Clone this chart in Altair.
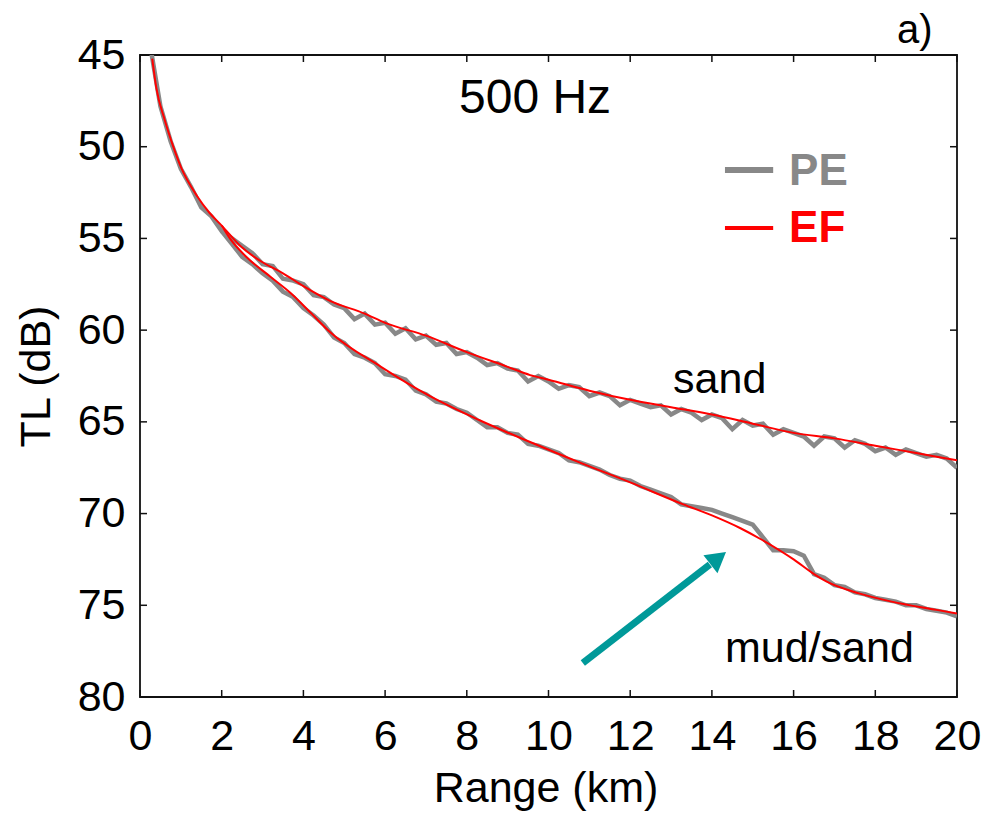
import altair as alt
import pandas as pd

# ---------------- data ----------------
pe_km = [round(0.25 * i, 2) for i in range(1, 81)]  # sample grid 0.25 .. 20 km

pe_sand_tl = [
    44.5, 47.8, 49.7, 51.2, 52.2, 53.3, 53.8, 54.6, 55.0, 55.4,
    55.8, 56.4, 56.5, 57.2, 57.3, 57.5, 58.1, 58.2, 58.6, 58.8,
    59.4, 59.1, 59.7, 59.6, 60.2, 59.9, 60.5, 60.3, 60.8, 60.7,
    61.3, 61.2, 61.5, 61.9, 61.8, 62.1, 62.2, 62.8, 62.5, 62.8,
    63.2, 63.0, 63.1, 63.6, 63.4, 63.6, 64.1, 63.8, 64.0, 64.2,
    64.1, 64.6, 64.3, 64.5, 64.9, 64.6, 64.8, 65.4, 64.9, 65.2,
    65.1, 65.7, 65.4, 65.6, 65.8, 66.3, 65.8, 65.9, 66.4, 66.0,
    66.2, 66.6, 66.4, 66.8, 66.5, 66.7, 66.9, 66.8, 67.0, 67.5,
]

# mud/sand PE branch (starts at 2.0 km where it leaves the sand curve)
pe_mud_km = pe_km[7:]
pe_mud_tl = [
    54.6, 55.3, 56.0, 56.4, 56.9, 57.3, 57.9, 58.2, 58.8, 59.2,
    59.7, 60.4, 60.7, 61.3, 61.5, 61.8, 62.4, 62.5, 62.7, 63.3,
    63.5, 63.9, 64.0, 64.3, 64.5, 64.9, 65.3, 65.3, 65.6, 65.7,
    66.2, 66.3, 66.5, 66.7, 67.1, 67.2, 67.4, 67.6, 67.9, 68.1,
    68.2, 68.5, 68.7, 68.9, 69.1, 69.5, 69.6, 69.7, 69.8, 70.0,
    70.2, 70.4, 70.6, 71.3, 72.0, 72.0, 72.05, 72.3, 73.3, 73.5,
    73.9, 74.0, 74.3, 74.4, 74.6, 74.7, 74.8, 75.0, 75.0, 75.2,
    75.3, 75.4, 75.6,
]

ef_sand_km = [0.3, 0.4, 0.6, 0.8, 1.0, 1.4, 1.7, 2.0, 2.5, 3.0, 3.5, 4.0, 4.65,
              5.5, 6.0, 7.0, 8.0, 9.0, 9.55, 10.0, 11.0, 12.0, 13.0, 14.0,
              15.0, 16.0, 17.0, 18.0, 19.0, 20.0]
ef_sand_tl = [45.2, 46.8, 48.5, 49.9, 51.1, 52.7, 53.6, 54.3, 55.5, 56.3, 56.9,
              57.6, 58.4, 59.1, 59.6, 60.3, 61.2, 62.0, 62.45, 62.7, 63.3,
              63.8, 64.2, 64.6, 65.1, 65.6, 65.9, 66.3, 66.7, 67.1]

ef_mud_km = [2.0, 2.2, 2.6, 3.2, 3.7, 4.2, 4.65, 5.9, 7.1, 8.3, 9.55, 10.8,
             12.0, 13.3, 14.0, 14.7, 15.2, 16.0, 16.5, 16.8, 17.6, 18.4,
             19.5, 20.0]
ef_mud_tl = [54.3, 55.0, 56.0, 57.1, 58.0, 59.1, 60.1, 62.0, 63.6, 64.9, 66.1,
             67.25, 68.3, 69.5, 70.1, 70.8, 71.4, 72.5, 73.3, 73.7, 74.35,
             74.8, 75.25, 75.45]

x_ticks = [0, 2, 4, 6, 8, 10, 12, 14, 16, 18, 20]
y_ticks = [45, 50, 55, 60, 65, 70, 75, 80]

# ---------------- layout constants ----------------
W, H = 817, 642
FONT = "Liberation Sans"
GRAY = "#888888"
RED = "#ff0000"
TEAL = "#009999"
TICK = 7

xs = alt.Scale(domain=[0, 20], nice=False, zero=False)
ys = alt.Scale(domain=[45, 80], nice=False, zero=False, reverse=True)

x_axis = alt.Axis(values=x_ticks, title="Range (km)", grid=False, domain=False,
                  ticks=False, tickSize=0, labelFont=FONT, labelFontSize=43,
                  labelColor="black", labelPadding=18, labelFlush=False,
                  labelOverlap=False,
                  titleFont=FONT, titleFontSize=43, titleFontWeight="normal",
                  titleColor="black", titleBaseline="alphabetic",
                  titleX=W / 2 - 3, titleY=104)
y_axis = alt.Axis(values=y_ticks, title="TL (dB)", grid=False, domain=False,
                  ticks=False, tickSize=0, labelFont=FONT, labelFontSize=43,
                  labelColor="black", labelPadding=15, labelFlush=False,
                  labelOverlap=False,
                  titleFont=FONT, titleFontSize=43, titleFontWeight="normal",
                  titleColor="black", titleAngle=270, titleBaseline="alphabetic",
                  titleAlign="center", titleX=-91, titleY=H / 2)


def X(field="km", **kw):
    return alt.X(field, type="quantitative", scale=xs, axis=x_axis, **kw)


def Y(field="tl", **kw):
    return alt.Y(field, type="quantitative", scale=ys, axis=y_axis, **kw)


pe_df = pd.concat([
    pd.DataFrame({"km": pe_km, "tl": pe_sand_tl, "curve": "sand"}),
    pd.DataFrame({"km": pe_mud_km, "tl": pe_mud_tl, "curve": "mud"}),
])
ef_df = pd.concat([
    pd.DataFrame({"km": ef_sand_km, "tl": ef_sand_tl, "curve": "sand"}),
    pd.DataFrame({"km": ef_mud_km, "tl": ef_mud_tl, "curve": "mud"}),
])

pe_lines = alt.Chart(pe_df).mark_line(
    color=GRAY, strokeWidth=4.5, clip=True, strokeJoin="miter"
).encode(x=X(), y=Y(), detail="curve:N", order="km:Q")

ef_lines = alt.Chart(ef_df).mark_line(
    color=RED, strokeWidth=2, clip=True, interpolate="monotone"
).encode(x=X(), y=Y(), detail="curve:N", order="km:Q")

xt = pd.DataFrame({"v": x_ticks})
yt = pd.DataFrame({"v": y_ticks})
tick_style = dict(color="#111111", strokeWidth=1.5)
ticks_bottom = alt.Chart(xt).mark_rule(**tick_style).encode(
    x=X("v"), y=alt.value(H), y2=alt.value(H - TICK))
ticks_top = alt.Chart(xt).mark_rule(**tick_style).encode(
    x=X("v"), y=alt.value(0), y2=alt.value(TICK))
ticks_left = alt.Chart(yt).mark_rule(**tick_style).encode(
    y=Y("v"), x=alt.value(0), x2=alt.value(TICK))
ticks_right = alt.Chart(yt).mark_rule(**tick_style).encode(
    y=Y("v"), x=alt.value(W - TICK), x2=alt.value(W))


def label(text, km, tl, size, color="black", weight="normal"):
    d = pd.DataFrame({"km": [km], "tl": [tl], "t": [text]})
    return alt.Chart(d).mark_text(
        align="left", baseline="alphabetic", font=FONT, fontSize=size,
        color=color, fontWeight=weight
    ).encode(x=X(), y=Y(), text="t:N")


labels = [
    label("500 Hz", 7.81, 48.16, 48),
    label("sand", 13.05, 63.43, 43),
    label("mud/sand", 14.32, 78.09, 43),
    label("a)", 18.53, 44.35, 40),
    label("PE", 15.89, 52.09, 44, GRAY, "bold"),
    label("EF", 15.89, 55.2, 44, RED, "bold"),
]

leg_pe = alt.Chart(pd.DataFrame({"km": [14.32], "km2": [15.5], "tl": [51.27]})).mark_rule(
    color=GRAY, strokeWidth=6).encode(x=X(), x2="km2:Q", y=Y())
leg_ef = alt.Chart(pd.DataFrame({"km": [14.32], "km2": [15.5], "tl": [54.43]})).mark_rule(
    color=RED, strokeWidth=4).encode(x=X(), x2="km2:Q", y=Y())

arrow_shaft = alt.Chart(pd.DataFrame({"km": [10.84], "tl": [78.15],
                                      "km2": [13.95], "tl2": [72.78]})).mark_rule(
    color=TEAL, strokeWidth=7, strokeCap="butt").encode(
    x=X(), y=Y(), x2="km2:Q", y2="tl2:Q")
arrow_head = alt.Chart(pd.DataFrame({"km": [14.155], "tl": [72.43]})).mark_point(
    shape="triangle-up", size=520, filled=True, color=TEAL, opacity=1,
    angle=52).encode(x=X(), y=Y())

chart = alt.layer(
    pe_lines, ef_lines, ticks_bottom, ticks_top, ticks_left, ticks_right,
    leg_pe, leg_ef, arrow_shaft, arrow_head, *labels
).properties(
    width=W, height=H,
    autosize=alt.AutoSizeParams(type="none"),
    padding={"left": 140, "top": 55, "right": 26, "bottom": 118},
    background="white",
).configure_view(stroke="#111111", strokeWidth=1.8)

chart.save("out.html", embed_options={"renderer": "svg", "actions": False})
